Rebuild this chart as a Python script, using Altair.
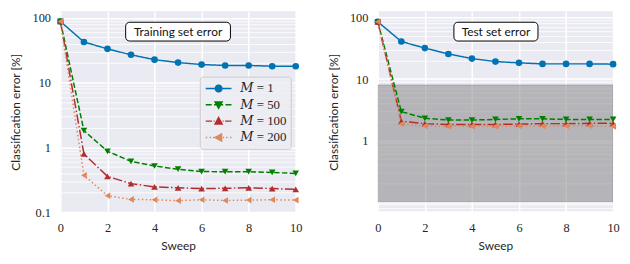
import math
import altair as alt
import pandas as pd

# ---------------- data ----------------
sweeps = list(range(11))
series = ["M = 1", "M = 50", "M = 100", "M = 200"]

train_m1 = [88, 42.4, 33.2, 26.9, 22.6, 20.4, 19.0, 18.4, 18.4, 17.9, 17.9]
train_m50 = [88, 1.81, 0.87, 0.607, 0.515, 0.459, 0.423, 0.42, 0.42, 0.409, 0.395]
train_m100 = [88, 0.79, 0.356, 0.275, 0.245, 0.237, 0.231, 0.233, 0.237, 0.231, 0.224]
train_m200 = [88, 0.369, 0.179, 0.157, 0.155, 0.150, 0.155, 0.151, 0.153, 0.155, 0.153]

test_m1 = [86, 41.0, 32.0, 25.7, 21.6, 19.3, 18.4, 17.7, 17.7, 17.7, 17.5]
test_m50 = [86, 2.95, 2.3, 2.15, 2.15, 2.2, 2.25, 2.25, 2.2, 2.2, 2.2]
test_m100 = [86, 2.05, 1.88, 1.82, 1.82, 1.82, 1.85, 1.88, 1.88, 1.9, 1.9]
test_m200 = [86, 1.85, 1.72, 1.7, 1.7, 1.7, 1.72, 1.72, 1.72, 1.72, 1.7]

test_band = [0.1, 8.0]

train_title = "Training set error"
test_title = "Test set error"

x_ticks = [0, 2, 4, 6, 8, 10]
y_major = [0.1, 1, 10, 100]

# ---------------- styles ----------------
colors = ["#0173b2", "#008000", "#b22e2e", "#e0885a"]
dashes = [[1, 0], [5.5, 2.4], [9.6, 2.4, 1.5, 2.4], [1.5, 2.5]]
shapes = ["circle", "triangle-down", "triangle-up", "triangle-left"]

W, H = 238, 203
BG = "#eaeaf2"
TXT = "#262626"
SERIF = "Liberation Serif, DejaVu Serif, serif"


def poly_circle(r, n=14):
    pts = [(r * math.cos(2 * math.pi * k / n), r * math.sin(2 * math.pi * k / n)) for k in range(n)]
    return "M" + "L".join(f"{x:.3f},{y:.3f}" for x, y in pts) + "Z"


leg_lines = [
    "M-1.86,0L1.86,0",
    "M-1.86,0L-1.0,0M-0.66,0L0.66,0M1.0,0L1.86,0",
    "M-1.86,0L-0.95,0M-0.72,0L-0.58,0M0.58,0L0.72,0M0.95,0L1.86,0",
    "M-1.86,0L-1.65,0M-1.29,0L-1.08,0M-0.8,0L-0.6,0M0.6,0L0.8,0M1.08,0L1.29,0M1.65,0L1.86,0",
]
leg_markers = [
    poly_circle(0.48),
    "M-0.5,-0.42L0.5,-0.42L0,0.5Z",
    "M-0.5,0.42L0.5,0.42L0,-0.5Z",
    "M0.42,-0.5L0.42,0.5L-0.5,0Z",
]
leg_paths = [l + m for l, m in zip(leg_lines, leg_markers)]


def long_df(vals):
    rows = []
    for name, v in zip(series, vals):
        for s, y in zip(sweeps, v):
            rows.append({"sweep": s, "value": y, "series": name})
    return pd.DataFrame(rows)


train_df = long_df([train_m1, train_m50, train_m100, train_m200])
test_df = long_df([test_m1, test_m50, test_m100, test_m200])


def make_panel(df, title, y_domain, label_vals, box, band=None, legend=False):
    minor = []
    for d in [0.01, 0.1, 1, 10]:
        for k in range(1, 10):
            v = round(k * d, 6)
            if y_domain[0] <= v <= y_domain[1]:
                minor.append(v)
    if y_domain[0] <= 100 <= y_domain[1]:
        minor.append(100)
    lab_test = " || ".join(f"datum.value == {v}" for v in label_vals)
    major_test = " || ".join(f"datum.value == {v}" for v in y_major)
    yaxis = alt.Axis(
        values=minor,
        labelExpr=f"({lab_test}) ? format(datum.value, '') : ''",
        gridWidth={"condition": {"test": major_test, "value": 1.5}, "value": 0.8},
        title="Classification error [%]",
        titlePadding=4,
        minExtent=34,
        maxExtent=34,
        labelPadding=10,
    )
    yscale = alt.Scale(type="log", domain=y_domain, nice=False)
    xenc = alt.X(
        "sweep:Q",
        scale=alt.Scale(domain=[0, 10], nice=False, zero=False),
        axis=alt.Axis(values=x_ticks, title="Sweep", labelFlush=False, gridWidth=1.5,
                      labelPadding=10, titlePadding=6),
    )
    yenc = alt.Y("value:Q", scale=yscale, axis=yaxis)

    layers = []
    if band is not None:
        bdf = pd.DataFrame({"lo": [band[0]], "hi": [band[1]]})
        layers.append(
            alt.Chart(bdf).mark_rect(fill="#808080", fillOpacity=0.5, stroke="#808080",
                                     strokeOpacity=0.5, strokeWidth=1, clip=True).encode(
                x=alt.value(0), x2=alt.value(W),
                y=alt.Y("lo:Q", scale=yscale, axis=yaxis), y2="hi:Q")
        )
    base = alt.Chart(df)
    layers.append(
        base.mark_line(strokeWidth=1.5).encode(
            x=xenc, y=yenc,
            color=alt.Color("series:N", scale=alt.Scale(domain=series, range=colors), legend=None),
            strokeDash=alt.StrokeDash("series:N", scale=alt.Scale(domain=series, range=dashes), legend=None),
        )
    )
    layers.append(
        base.mark_point(filled=True, size=45, opacity=1).encode(
            x=xenc, y=yenc,
            color=alt.Color("series:N", scale=alt.Scale(domain=series, range=colors), legend=None),
            shape=alt.Shape("series:N", scale=alt.Scale(domain=series, range=shapes), legend=None),
        )
    )
    if legend:
        leg = alt.Legend(
            orient="none", legendX=141, legendY=66, title=None,
            symbolSize=196, symbolStrokeWidth=1.5, symbolOffset=7, symbolOpacity=1,
            labelOffset=14, labelFont=SERIF, labelFontSize=13, labelColor=TXT,
            labelExpr="replace(datum.label, 'M', '\U0001D440')",
            fillColor="rgba(236,236,243,0.85)", strokeColor="#cccccc", cornerRadius=3,
            padding=4, rowPadding=1.5,
        )
        layers.append(
            base.mark_point(opacity=0, strokeWidth=1.5).encode(
                x=xenc, y=yenc,
                fill=alt.Fill("series:N", scale=alt.Scale(domain=series, range=colors), legend=leg),
                stroke=alt.Stroke("series:N", scale=alt.Scale(domain=series, range=colors), legend=leg),
                shape=alt.Shape("series:N", scale=alt.Scale(domain=series, range=leg_paths), legend=leg),
            )
        )
    tdf = pd.DataFrame({"t": [title]})
    layers.append(
        alt.Chart(tdf).mark_rect(fill="white", stroke="black", strokeWidth=1, cornerRadius=4).encode(
            x=alt.value(box[0]), x2=alt.value(box[1]), y=alt.value(11), y2=alt.value(30))
    )
    layers.append(
        alt.Chart(tdf).mark_text(font="Lato", fontSize=12, color="#111111", baseline="middle").encode(
            x=alt.value((box[0] + box[1]) / 2), y=alt.value(20.5), text="t:N")
    )
    ch = alt.layer(*layers).properties(width=W, height=H)
    if legend:
        ch = ch.resolve_scale(shape="independent", fill="independent", stroke="independent")
    else:
        ch = ch.resolve_scale(shape="independent")
    return ch


left = make_panel(train_df, train_title, [0.1, 126], [0.1, 1, 10, 100], (66, 172), legend=True)
right = make_panel(test_df, test_title, [0.068, 127], [1, 10, 100], (77, 162), band=test_band)

chart = (
    alt.hconcat(left, right, spacing=25)
    .resolve_scale(color="independent", shape="independent", strokeDash="independent",
                   fill="independent", stroke="independent")
    .properties(padding={"left": 2, "top": 2, "right": 2, "bottom": 2}, background="white")
    .configure_view(fill=BG, stroke=None)
    .configure_legend(labelFont=SERIF, labelFontSize=13, labelColor=TXT)
    .configure_axis(
        domain=False, ticks=False, gridColor="white", gridOpacity=1,
        labelFont="Liberation Serif", labelFontSize=12.5, labelColor=TXT,
        titleFont="Lato", titleFontSize=12, titleFontWeight="normal", titleColor=TXT,
    )
)

chart.save("out.html", embed_options={"renderer": "svg", "actions": False})
